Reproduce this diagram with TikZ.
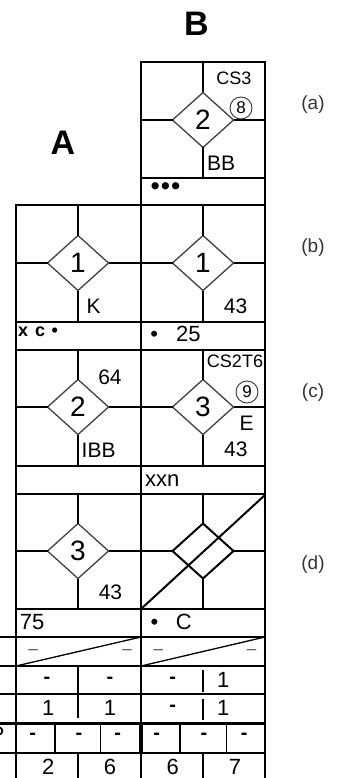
\documentclass[tikz,border=0pt]{standalone}
\usepackage{fontspec}
\setmainfont{Liberation Sans}
\usetikzlibrary{shapes.geometric}
\begin{document}
\begin{tikzpicture}[x=1pt,y=-1pt,
  grid/.style={line width=2.2pt, line join=miter},
  crs/.style={line width=2.2pt},
  thinl/.style={line width=1.3pt},
  dia/.style={draw=black!75, line width=1.3pt, shape=diamond, minimum width=61pt, minimum height=55pt, inner sep=0pt, outer sep=0pt, font=\fontsize{28}{28}\selectfont},
  lab/.style={inner sep=0pt, font=\fontsize{21}{21}\selectfont},
  num/.style={inner sep=0pt, font=\fontsize{22}{22}\selectfont},
  small/.style={inner sep=0pt, font=\fontsize{18}{18}\selectfont},
  big/.style={inner sep=0pt, font=\bfseries\fontsize{34}{34}\selectfont},
  side/.style={inner sep=0pt, text=black!80, font=\fontsize{19}{19}\selectfont},
  bar/.style={inner sep=0pt, font=\bfseries\fontsize{20}{20}\selectfont},
  dsh/.style={inner sep=0pt, text=black!70, font=\fontsize{17}{17}\selectfont},
  circ/.style={circle, draw=black!80, line width=0.9pt, minimum size=22pt, inner sep=0pt, font=\fontsize{17}{17}\selectfont},
]
\useasboundingbox (0,0) rectangle (342,778);

% headings
\node[big] (hB) at (196.5,24) {B};
\node[big] (hA) at (63,142.5) {A};
\node[side] (la) at (313,105) {(a)};
\node[side] (lb) at (313,248) {(b)};
\node[side] (lc) at (313,393) {(c)};
\node[side] (ld) at (313,565) {(d)};

% outer grid
\draw[grid] (141,778) -- (141,62) -- (265,62) -- (265,778);
\draw[grid] (16,778) -- (16,205) -- (265,205);
\draw[grid] (141,178) -- (265,178);
\draw[grid] (16,322) -- (265,322);
\draw[grid] (16,350) -- (265,350);
\draw[grid] (16,466) -- (265,466);
\draw[grid] (16,494) -- (265,494);
\draw[grid] (16,609) -- (265,609);
\draw[grid] (0,637) -- (265,637);
\draw[grid] (0,666) -- (265,666);
\draw[grid] (0,694) -- (265,694);
\draw[line width=3pt] (0,723) -- (265,723);
\draw[grid] (0,753) -- (265,753);

% (a) B
\node[dia] (dA) at (203,120) {2};
\draw[crs] (203,62) -- (dA.north) (dA.south) -- (203,178) (141,120) -- (dA.west) (dA.east) -- (265,120);
\node[small] (cs3) at (234,78.3) {CS3};
\node[circ] (c8) at (241,108) {8};
\node[lab, anchor=west] (bb) at (207,163.5) {BB};
\node[inner sep=0pt, font=\bfseries\fontsize{25}{25}\selectfont] (dots) at (165.5,188.3) {•\hspace{1.5pt}•\hspace{1.5pt}•};

% (b) A
\node[dia] (dbA) at (78,263) {1};
\draw[crs] (78,205) -- (dbA.north) (dbA.south) -- (78,322) (16,263) -- (dbA.west) (dbA.east) -- (141,263);
\node[lab, anchor=west] (k) at (86.3,306.5) {K};
\node[inner sep=0pt, anchor=west, font=\bfseries\fontsize{18}{18}\selectfont] (xc) at (18,332.2) {x\hspace{7pt}c\hspace{6.5pt}•};
% (b) B
\node[dia] (dbB) at (203,263) {1};
\draw[crs] (203,205) -- (dbB.north) (dbB.south) -- (203,322) (141,263) -- (dbB.west) (dbB.east) -- (265,263);
\node[lab] (n43b) at (235.5,306) {43};
\node[num, anchor=west] (n25) at (150.2,333.6) {•\hspace{18pt}25};

% (c) A
\node[dia] (dcA) at (78,407) {2};
\draw[crs] (78,350) -- (dcA.north) (dcA.south) -- (78,466) (16,407) -- (dcA.west) (dcA.east) -- (141,407);
\node[lab] (n64) at (110,377) {64};
\node[lab, anchor=west] (ibb) at (81.5,450) {IBB};
% (c) B
\node[dia] (dcB) at (203,407) {3};
\draw[crs] (203,350) -- (dcB.north) (dcB.south) -- (203,466) (141,407) -- (dcB.west) (dcB.east) -- (265,407);
\node[small] (cs2) at (235,361.7) {CS2T6};
\node[circ] (c9) at (247,392) {9};
\node[lab] (e) at (246.7,423.3) {E};
\node[lab] (n43c) at (235.8,449.2) {43};
\node[num, anchor=west] (xxn) at (145,480.7) {xxn};

% (d) A
\node[dia] (ddA) at (78,551) {3};
\draw[crs] (78,494) -- (ddA.north) (ddA.south) -- (78,609) (16,551) -- (ddA.west) (ddA.east) -- (141,551);
\node[lab] (n43d) at (110.5,592.5) {43};
\node[num, anchor=west] (n75) at (19.7,622.5) {75};
% (d) B
\node[dia, draw=black, line width=2pt] (ddB) at (203,551) {};
\draw[crs] (203,494) -- (ddB.north) (ddB.south) -- (203,609) (141,551) -- (ddB.west) (ddB.east) -- (265,551);
\draw[line width=2pt] (141,609) -- (265,495);
\node[num, anchor=west] (nc) at (150.4,621.7) {•\hspace{17.5pt}C};

% diagonal row
\draw[thinl] (16,666) -- (141,637);
\draw[thinl] (141,666) -- (265,637);
\node[dsh] (q1) at (33,652) {–};
\node[dsh] (q2) at (127,652) {–};
\node[dsh] (q3) at (158.3,651.7) {–};
\node[dsh] (q4) at (251.7,651.7) {–};

% dash row
\draw[thinl] (78,666) -- (78,694);
\draw[thinl] (203,670) -- (203,692);
\node[bar] (r1a) at (47,680) {-};
\node[bar] (r1b) at (110,680) {-};
\node[bar] (r1c) at (172.7,680) {-};
\node[num] (r1d) at (223.3,680) {1};

% ones row
\draw[thinl] (78,694) -- (78,718);
\draw[thinl] (203,699) -- (203,720);
\node[num] (r2a) at (48.3,708.3) {1};
\node[num] (r2b) at (110,708.3) {1};
\node[bar] (r2c) at (172.7,708.3) {-};
\node[num] (r2d) at (223.3,708.3) {1};

% three-dash row
\draw[thinl] (55,723) -- (55,753) (100.7,723) -- (100.7,753) (180,723) -- (180,753) (226.7,723) -- (226.7,753);
\draw[line width=4pt] (141,723) -- (141,753);
\node[bar] (r3a) at (32.7,736.7) {-};
\node[bar] (r3b) at (79,736.7) {-};
\node[bar] (r3c) at (117.7,736.7) {-};
\node[bar] (r3d) at (156.7,736.7) {-};
\node[bar] (r3e) at (204,736.7) {-};
\node[bar] (r3f) at (244.3,736.7) {-};
\begin{scope}
\clip (0,0) rectangle (342,778);
\node[lab, anchor=east] (pp) at (4.5,734) {P};
\end{scope}

% last row
\draw[thinl] (78,753) -- (78,778) (203,753) -- (203,778);
\node[num] (r4a) at (48.3,767) {2};
\node[num] (r4b) at (110,767) {6};
\node[num] (r4c) at (172.7,767) {6};
\node[num] (r4d) at (235,767) {7};
\end{tikzpicture}
\end{document}
